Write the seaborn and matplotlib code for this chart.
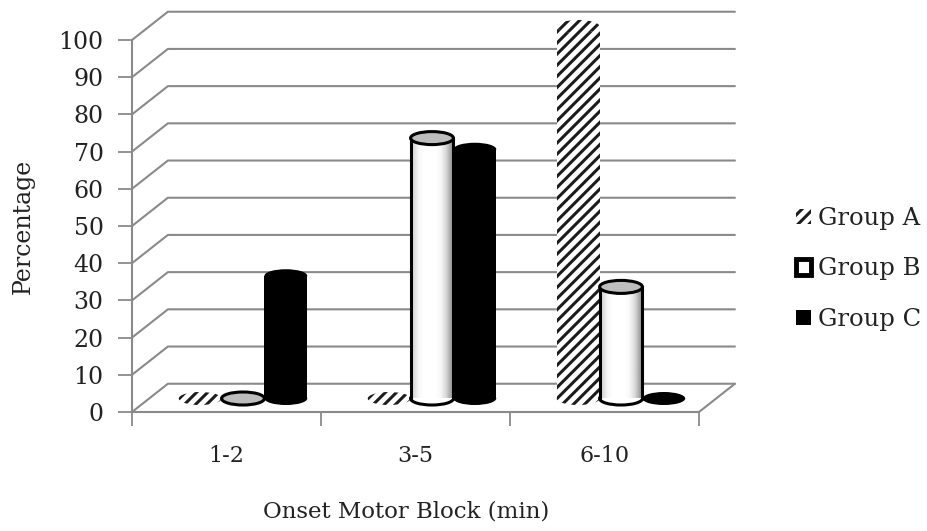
import numpy as np
import pandas as pd
import matplotlib
matplotlib.use("Agg")
import matplotlib.pyplot as plt
import seaborn as sns
from matplotlib.patches import Ellipse, Patch

onset = ['1-2', '3-5', '6-10']
groups = ['Group A', 'Group B', 'Group C']
group_a = [0, 0, 100]
group_b = [0, 70, 30]
group_c = [33, 67, 0]
y_ticks = list(range(0, 101, 10))

W, H = 928, 531
GRAY = '#8a8a8a'

sns.set_style('white')
plt.rcParams['font.family'] = ['DejaVu Serif']
plt.rcParams['hatch.linewidth'] = 2.2

df = pd.DataFrame({'onset': onset, 'Group A': group_a, 'Group B': group_b, 'Group C': group_c})
df = df.melt(id_vars='onset', var_name='group', value_name='pct')

fig = plt.figure(figsize=(W / 100, H / 100), dpi=100)

# front plane holds the axis, the bars sit half way back into the box
ax = fig.add_axes([132 / W, (H - 412) / H, 567 / W, 372 / H])
bar_ax = fig.add_axes([148.5 / W, (H - 398.5) / H, 567 / W, 372 / H], zorder=3)
bar_ax.patch.set_alpha(0)

ax.set_xlim(-0.5, 2.5)
ax.set_ylim(0, 100)

# walls and floor
dx, dy = 0.19, 7.6
for v in y_ticks:
    ax.plot([-0.5, -0.5 + dx, 2.5 + dx], [v, v + dy, v + dy], color=GRAY, lw=1.5, clip_on=False)
ax.plot([2.5, 2.5 + dx], [0, dy], color=GRAY, lw=1.5, clip_on=False)

ax.set_yticks(y_ticks)
ax.set_xticks([-0.5, 0.5, 1.5, 2.5])
ax.set_xticklabels([])
ax.set_xticks([0, 1, 2], labels=onset, minor=True)
ax.tick_params(axis='both', which='major', length=10, width=1.3, color=GRAY, direction='out', bottom=True, left=True)
ax.tick_params(axis='y', labelsize=17, pad=10.5, labelcolor='#222222')
ax.tick_params(axis='x', which='minor', length=0, labelsize=16, pad=24, labelcolor='#222222')
ax.set_xlabel('Onset Motor Block (min)', fontsize=16.5, labelpad=24, color='#222222', x=0.483)
ax.set_ylabel('Percentage', fontsize=17, labelpad=17, color='#222222')
sns.despine(ax=ax)
for side in ['left', 'bottom']:
    ax.spines[side].set_color(GRAY)
    ax.spines[side].set_linewidth(1.5)

sns.barplot(data=df, x='onset', y='pct', hue='group', hue_order=groups, order=onset,
            palette=['white', 'white', 'black'], width=0.68, gap=0, legend=False,
            saturation=1, ax=bar_ax)
bar_ax.set_xlim(-0.5, 2.5)
bar_ax.set_ylim(0, 100)
bar_ax.axis('off')

cap_h = 3.5
shade = [[0.85, 0.97, 1, 1, 1, 0.97, 0.85, 0.62]]

for n, container in enumerate(bar_ax.containers):
    for bar in container:
        bar.set_linewidth(0)
        bar.set_clip_on(False)
        x0, w, top = bar.get_x(), bar.get_width(), bar.get_height()
        cx = x0 + w / 2
        z = 2 + n
        bar.set_zorder(z + 0.1)
        if n == 0:
            style = dict(facecolor='white', edgecolor='#1c1c1c', hatch='///', linewidth=0)
            bar.set_facecolor('white')
            bar.set_edgecolor('#1c1c1c')
            bar.set_hatch('///')
            base = dict(style)
            cap = dict(style)
        elif n == 1:
            base = dict(facecolor='white', edgecolor='black', linewidth=2.2)
            cap = dict(facecolor='#bdbdbd', edgecolor='black', linewidth=2.2)
            if top == 0:
                base = dict(cap)
        else:
            base = dict(facecolor='black', edgecolor='black', linewidth=0)
            cap = dict(base)
        bar_ax.add_patch(Ellipse((cx, 0), w, cap_h, zorder=z, clip_on=False, **base))
        if top > 0:
            if n == 1:
                img = bar_ax.imshow(shade, cmap='gray', vmin=0, vmax=1, aspect='auto',
                                    extent=(x0, x0 + w, 0, top), interpolation='bilinear', zorder=z + 0.2)
                img.set_clip_on(False)
                bar_ax.plot([x0, x0], [0, top], color='black', lw=2.2, zorder=z + 0.3, clip_on=False)
                bar_ax.plot([x0 + w, x0 + w], [0, top], color='black', lw=2.2, zorder=z + 0.3, clip_on=False)
            bar_ax.add_patch(Ellipse((cx, top), w, cap_h, zorder=z + 0.4, clip_on=False, **cap))
bar_ax.set_xlim(-0.5, 2.5)
bar_ax.set_ylim(0, 100)

handles = [Patch(facecolor='white', edgecolor='#1c1c1c', hatch='///', linewidth=0),
           Patch(facecolor='white', edgecolor='black', linewidth=3.5),
           Patch(facecolor='black', edgecolor='black', linewidth=0)]
fig.legend(handles, groups, loc='center left', bbox_to_anchor=(796 / W, (H - 269) / H), frameon=False,
           fontsize=17.5, handlelength=0.62, handleheight=0.62, handletextpad=0.3, labelspacing=1.13,
           borderpad=0, borderaxespad=0, labelcolor='#222222')

fig.savefig('out.png', dpi=100, facecolor='white')
